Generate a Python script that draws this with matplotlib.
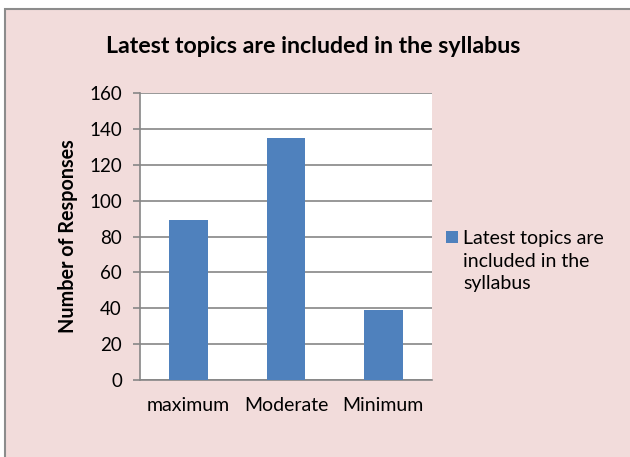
import matplotlib
matplotlib.use("Agg")
import matplotlib.pyplot as plt
from matplotlib.patches import Rectangle

# data
categories = ["maximum", "Moderate", "Minimum"]
responses = [89, 135, 39]
series_name = "Latest topics are included in the syllabus"
legend_label = "Latest topics are\nincluded in the\nsyllabus"
y_ticks = [0, 20, 40, 60, 80, 100, 120, 140, 160]

plt.rcParams['font.family'] = ['Lato', 'DejaVu Sans']

bar_color = "#4F81BD"
grid_color = "#868686"
bg_color = "#F2DCDB"

W, H = 630, 457
fig = plt.figure(figsize=(W / 100, H / 100), dpi=100, facecolor="white")

# pink chart area with grey frame (frame runs off right/bottom edges)
frame = Rectangle((5 / W, -0.1), 1.2, (1 - 9 / H) + 0.1, transform=fig.transFigure,
                  facecolor=bg_color, edgecolor="#8C8C8C", linewidth=1.5, zorder=-5)
fig.patches.append(frame)

ax = fig.add_axes([140 / W, 1 - 380 / H, 292 / W, 287 / H])
ax.set_facecolor("white")

x = range(len(categories))
ax.bar(x, responses, width=0.4, color=bar_color, zorder=3)

ax.set_xlim(-0.5, len(categories) - 0.5)
ax.set_ylim(0, 160)
ax.set_yticks(y_ticks)
ax.set_xticks(list(x))
ax.set_xticklabels(categories, fontsize=14)
ax.tick_params(axis="y", length=5, width=1.2, color=grid_color, labelsize=13.5, pad=8)
ax.tick_params(axis="x", length=0, pad=12)
ax.yaxis.grid(True, color=grid_color, linewidth=1.2, zorder=0)
ax.set_axisbelow(True)

for s in ["top", "right"]:
    ax.spines[s].set_visible(False)
for s in ["left", "bottom"]:
    ax.spines[s].set_color(grid_color)
    ax.spines[s].set_linewidth(1.2)

fig.text(313 / W, 1 - 53 / H, series_name, ha="center", va="baseline",
         fontsize=16.7, fontweight="bold")
fig.text(68 / W, 1 - 236 / H, "Number of Responses", rotation=90,
         ha="center", va="center", fontsize=14.2, fontweight="bold")

# legend drawn by hand so the key sits beside the first line
fig.patches.append(Rectangle((446 / W, 1 - 243 / H), 12 / W, 12 / H,
                             transform=fig.transFigure, facecolor=bar_color))
fig.text(463 / W, 1 - 230 / H, legend_label, ha="left", va="top",
         fontsize=14, linespacing=1.4)

fig.savefig("out.png", dpi=100, facecolor=fig.get_facecolor())
